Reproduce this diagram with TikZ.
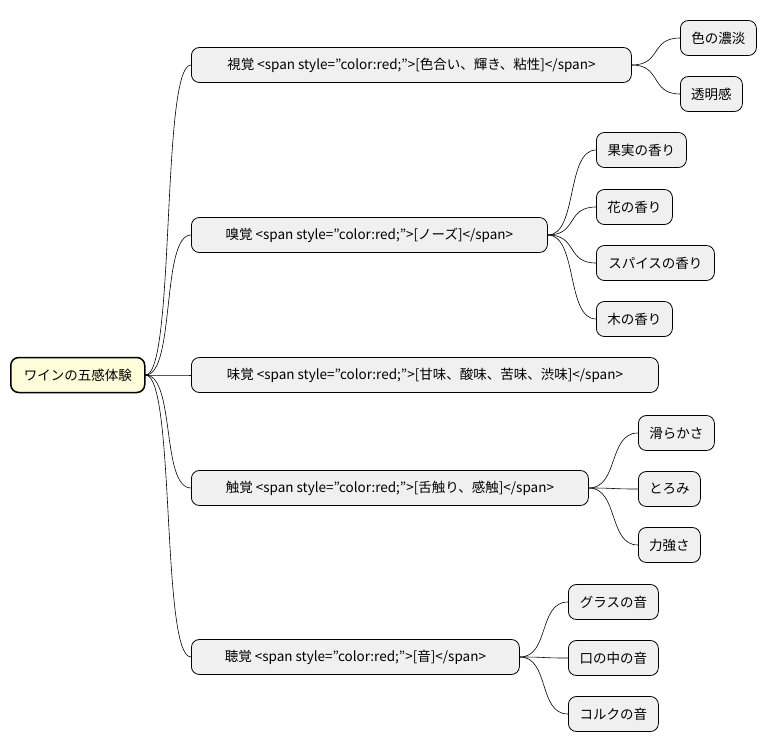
\documentclass[tikz,border=0pt]{standalone}
\usepackage{fontspec}
\setmainfont{Noto Sans CJK JP}
\newcommand\dq{\symbol{34}}
\begin{document}
\begin{tikzpicture}[x=1pt,y=-1pt,
  box/.style={draw=black,fill=gray!12,rounded corners=8pt,minimum height=35pt,inner xsep=0pt,anchor=west,font=\fontsize{13.5}{15}\selectfont,line width=0.8pt},
  rootbox/.style={box,fill=yellow!15,line width=1.5pt},
  link/.style={draw=black,line width=0.6pt}]
\useasboundingbox (0,0) rectangle (767,752);
\node[rootbox,minimum width=134pt] (r) at (10,375) {ワインの五感体験};
\node[box,minimum width=440pt] (a) at (191,65) {視覚 <span style=\dq color:red;\dq>[色合い、輝き、粘性]</span>};
\node[box,minimum width=356pt] (b) at (191,235) {嗅覚 <span style=\dq color:red;\dq>[ノーズ]</span>};
\node[box,minimum width=467pt] (c) at (191,375) {味覚 <span style=\dq color:red;\dq>[甘味、酸味、苦味、渋味]</span>};
\node[box,minimum width=397pt] (d) at (191,488) {触覚 <span style=\dq color:red;\dq>[舌触り、感触]</span>};
\node[box,minimum width=328pt] (e) at (191,657) {聴覚 <span style=\dq color:red;\dq>[音]</span>};
\node[box,minimum width=76pt] (a1) at (680,38) {色の濃淡};
\node[box,minimum width=62pt] (a2) at (680,94) {透明感};
\node[box,minimum width=90pt] (b1) at (596,150) {果実の香り};
\node[box,minimum width=76pt] (b2) at (596,207) {花の香り};
\node[box,minimum width=118pt] (b3) at (596,263) {スパイスの香り};
\node[box,minimum width=76pt] (b4) at (596,319) {木の香り};
\node[box,minimum width=76pt] (d1) at (638,433) {滑らかさ};
\node[box,minimum width=62pt] (d2) at (638,489) {とろみ};
\node[box,minimum width=62pt] (d3) at (638,545) {力強さ};
\node[box,minimum width=90pt] (e1) at (568,602) {グラスの音};
\node[box,minimum width=90pt] (e2) at (568,658) {口の中の音};
\node[box,minimum width=90pt] (e3) at (568,714) {コルクの音};
\foreach \p/\c in {r/a,r/b,r/c,r/d,r/e,a/a1,a/a2,b/b1,b/b2,b/b3,b/b4,d/d1,d/d2,d/d3,e/e1,e/e2,e/e3}
  \draw[link] (\p.east) .. controls ([xshift=30pt]\p.east) and ([xshift=-30pt]\c.west) .. (\c.west);
\end{tikzpicture}
\end{document}
